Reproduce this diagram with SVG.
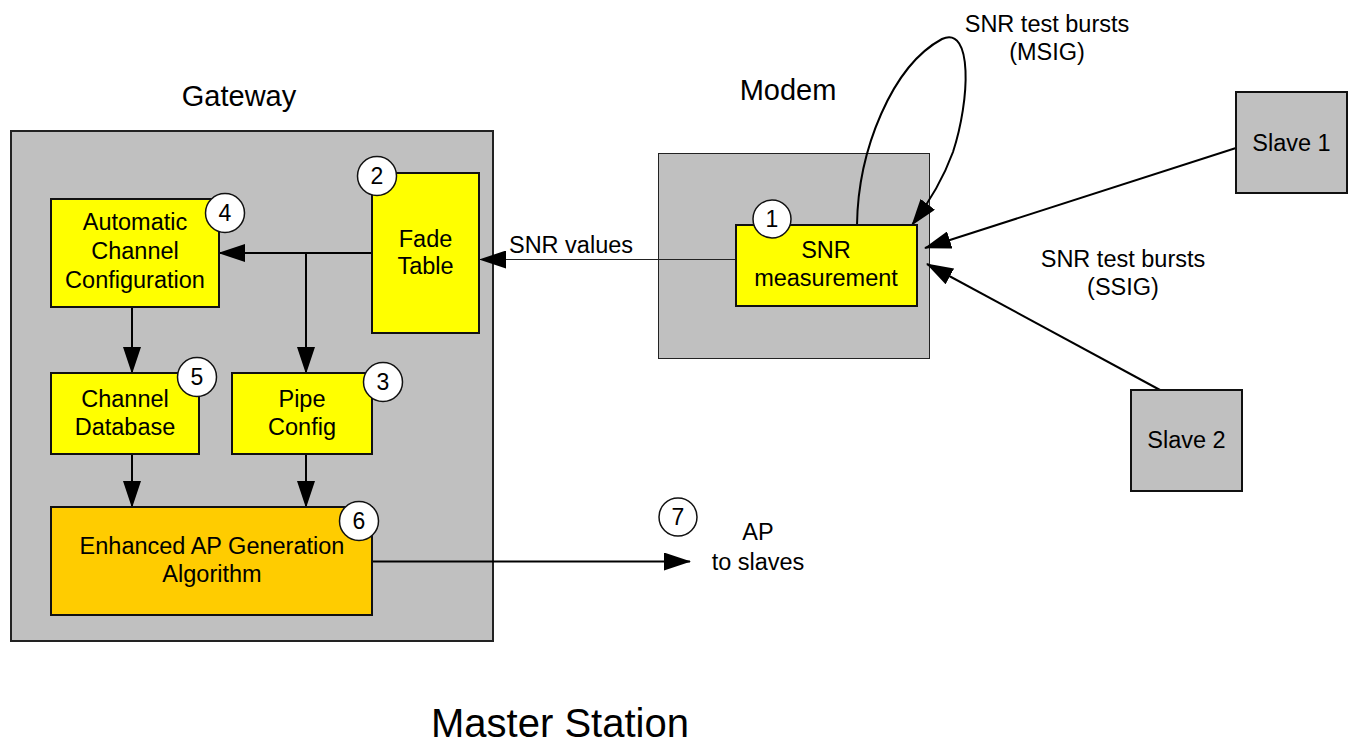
<svg xmlns="http://www.w3.org/2000/svg" width="1355" height="746" viewBox="0 0 1355 746">
  <style>
    text { font-family: "Liberation Sans", Arial, sans-serif; fill: #000; text-anchor: middle; }
    .lbl { font-size: 23.5px; }
    .title { font-size: 29px; }
    .big { font-size: 40px; }
    .num { font-size: 23px; }
    .container { fill: #c0c0c0; stroke: #222; stroke-width: 2; }
    .modem { fill: #c0c0c0; stroke: #222; stroke-width: 1; }
    .proc { fill: #ffff00; stroke: #111; stroke-width: 2; }
    .algo { fill: #ffcc00; stroke: #111; stroke-width: 2; }
    .slave { fill: #c0c0c0; stroke: #111; stroke-width: 2; }
    .badge { fill: #fff; stroke: #111; stroke-width: 1.5; }
    .wire { fill: none; stroke: #000; stroke-width: 2; }
    .thin { fill: none; stroke: #222; stroke-width: 1.2; }
  </style>
  <defs>
    <marker id="arrow" markerUnits="userSpaceOnUse" viewBox="0 0 27 18" markerWidth="27" markerHeight="18" refX="26" refY="9" orient="auto">
      <path d="M0,0 L27,9 L0,18 z" fill="#000"/>
    </marker>
  </defs>

  <rect width="1355" height="746" fill="#fff"/>

  <!-- section titles -->
  <text class="title" x="239" y="106">Gateway</text>
  <text class="title" x="788" y="100">Modem</text>
  <text class="big" x="560" y="737">Master Station</text>

  <!-- containers -->
  <g id="gateway">
    <rect class="container" x="11" y="131" width="482" height="510"/>
  </g>
  <g id="modem">
    <rect class="modem" x="658.5" y="153.5" width="271" height="205"/>
  </g>

  <!-- connectors -->
  <g id="connectors">
    <path class="wire" d="M372,253 L219,253" marker-end="url(#arrow)"/>
    <path class="wire" d="M306,253 L306,373" marker-end="url(#arrow)"/>
    <path class="wire" d="M132,307 L132,373" marker-end="url(#arrow)"/>
    <path class="wire" d="M132,454 L132,507" marker-end="url(#arrow)"/>
    <path class="wire" d="M306,454 L306,507" marker-end="url(#arrow)"/>
    <path class="thin" d="M736,259.5 L480,259.5" marker-end="url(#arrow)"/>
    <path class="wire" d="M372,561.5 L690,561.5" marker-end="url(#arrow)"/>
    <path class="wire" d="M1236,148 L925,248" marker-end="url(#arrow)"/>
    <path class="wire" d="M1160,390 L927,264" marker-end="url(#arrow)"/>
    <path class="wire" d="M857,225 C858,150 892,66 942,39 C973,25 970,100 953,152 C942,182 928,204 912,225" marker-end="url(#arrow)"/>
  </g>

  <!-- connector labels -->
  <text class="lbl" x="571" y="253">SNR values</text>
  <text class="lbl" x="1047" y="32">SNR test bursts</text>
  <text class="lbl" x="1047" y="60">(MSIG)</text>
  <text class="lbl" x="1123" y="267">SNR test bursts</text>
  <text class="lbl" x="1123" y="295">(SSIG)</text>
  <text class="lbl" x="758" y="540">AP</text>
  <text class="lbl" x="758" y="570">to slaves</text>

  <!-- gateway nodes -->
  <g id="fade-table">
    <rect class="proc" x="372" y="173" width="107" height="160"/>
    <text class="lbl" x="425.5" y="247">Fade</text>
    <text class="lbl" x="425.5" y="274">Table</text>
    <circle class="badge" cx="377" cy="176" r="19.5"/>
    <text class="num" x="377" y="184">2</text>
  </g>
  <g id="auto-channel-config">
    <rect class="proc" x="51" y="199" width="168" height="108"/>
    <text class="lbl" x="135" y="230">Automatic</text>
    <text class="lbl" x="135" y="259">Channel</text>
    <text class="lbl" x="135" y="288">Configuration</text>
    <circle class="badge" cx="225" cy="213" r="19.5"/>
    <text class="num" x="225" y="221">4</text>
  </g>
  <g id="channel-database">
    <rect class="proc" x="51" y="373" width="148" height="81"/>
    <text class="lbl" x="125" y="407">Channel</text>
    <text class="lbl" x="125" y="435">Database</text>
    <circle class="badge" cx="197" cy="377" r="19.5"/>
    <text class="num" x="197" y="385">5</text>
  </g>
  <g id="pipe-config">
    <rect class="proc" x="232" y="373" width="140" height="81"/>
    <text class="lbl" x="302" y="407">Pipe</text>
    <text class="lbl" x="302" y="435">Config</text>
    <circle class="badge" cx="383" cy="382" r="19.5"/>
    <text class="num" x="383" y="390">3</text>
  </g>
  <g id="ap-generation">
    <rect class="algo" x="51" y="507" width="321" height="108"/>
    <text class="lbl" x="212" y="554">Enhanced AP Generation</text>
    <text class="lbl" x="212" y="582">Algorithm</text>
    <circle class="badge" cx="359" cy="521" r="19.5"/>
    <text class="num" x="359" y="529">6</text>
  </g>

  <!-- modem node -->
  <g id="snr-measurement">
    <rect class="proc" x="736" y="225" width="181" height="81"/>
    <text class="lbl" x="826" y="258">SNR</text>
    <text class="lbl" x="826" y="286">measurement</text>
    <circle class="badge" cx="772" cy="219" r="19"/>
    <text class="num" x="772" y="227">1</text>
  </g>

  <!-- output marker -->
  <g id="ap-output">
    <circle class="badge" cx="678" cy="517" r="19"/>
    <text class="num" x="678" y="525">7</text>
  </g>

  <!-- slaves -->
  <g id="slave-1">
    <rect class="slave" x="1236" y="92" width="111" height="101"/>
    <text class="lbl" x="1291.5" y="151">Slave 1</text>
  </g>
  <g id="slave-2">
    <rect class="slave" x="1131" y="390" width="111" height="101"/>
    <text class="lbl" x="1186.5" y="448">Slave 2</text>
  </g>
</svg>
